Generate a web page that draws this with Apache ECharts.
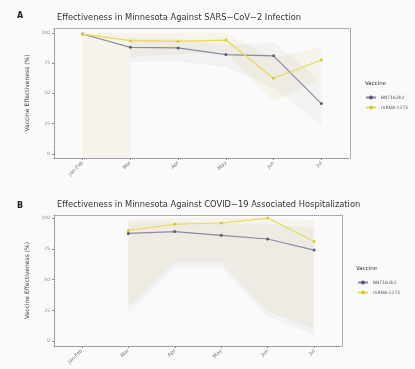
<!DOCTYPE html>
<html>
<head>
<meta charset="utf-8">
<script src="https://cdn.jsdelivr.net/npm/echarts@6/dist/echarts.min.js"></script>
<style>
  html, body { margin: 0; padding: 0; background: #fafafa; }
  #main { width: 415px; height: 369px; }
</style>
</head>
<body>
<div id="main"></div>
<script>
// months on the x axis (same for both panels)
var months = ['Jan-Feb', 'Mar', 'Apr', 'May', 'Jun', 'Jul'];
var yTicks = [0, 25, 50, 75, 100];

// A: infection
var bntA = [99, 88, 87.5, 82, 81, 41.5];
var modA = [99, 93.5, 93, 94, 62.5, 77.5];
// ribbons A (x index, lower, upper)
var bntRibXA = [1, 2, 3, 4, 5];
var bntRibLoA = [76, 76, 72, 54, 24];
var bntRibHiA = [96, 95, 90, 92, 60];
var modRibXA = [0, 1, 1, 2, 3, 4, 5];
var modRibLoA = [-3, -3, 80, 82, 84, 43, 62];
var modRibHiA = [100, 100, 100, 100, 100, 79, 88];

// B: hospitalization (no Jan-Feb estimate)
var bntB = [null, 87.5, 89, 86, 83, 74];
var modB = [null, 90, 95, 96, 100, 81];
var bntRibXB = [1, 2, 3, 4, 5];
var bntRibLoB = [22, 60, 60, 20, 5];
var bntRibHiB = [97, 97, 96, 95, 92];
var modRibXB = [1, 2, 3, 4, 5];
var modRibLoB = [28, 64, 64, 24, 10];
var modRibHiB = [99, 100, 100, 100, 98];

var bntColor = '#8a8aa2';
var modColor = '#e8da52';
var font = 'DejaVu Sans';

function ribbon(xs, lo, hi, fill, idx) {
    return {
        type: 'custom',
        xAxisIndex: idx,
        yAxisIndex: idx,
        silent: true,
        z: 1,
        data: [[0, 0]],
        renderItem: function (params, api) {
            var pts = [];
            for (var i = 0; i < xs.length; i++) pts.push(api.coord([xs[i], hi[i]]));
            for (var j = xs.length - 1; j >= 0; j--) pts.push(api.coord([xs[j], lo[j]]));
            return { type: 'polygon', shape: { points: pts }, style: { fill: fill } };
        }
    };
}

function lineSeries(name, values, color, idx) {
    var d = [];
    for (var i = 0; i < values.length; i++) {
        if (values[i] !== null) d.push([i, values[i]]);
    }
    return {
        name: name,
        type: 'line',
        xAxisIndex: idx,
        yAxisIndex: idx,
        data: d,
        z: 3,
        symbol: 'circle',
        symbolSize: 3,
        lineStyle: { color: color, width: 1.2 },
        itemStyle: { color: name === 'BNT162b2' ? '#5c5c70' : '#d8c840' }
    };
}

function xAxis(idx) {
    return {
        type: 'value', gridIndex: idx, min: -0.6, max: 5.6,
        splitLine: { show: false },
        axisLine: { onZero: false, lineStyle: { color: '#888', type: 'dotted', width: 1 } },
        axisTick: { customValues: [0, 1, 2, 3, 4, 5], length: 2, lineStyle: { color: '#888' } },
        axisLabel: {
            customValues: [0, 1, 2, 3, 4, 5], rotate: 45, fontSize: 5, color: '#777',
            fontFamily: font, margin: 4,
            formatter: function (v) { return months[Math.round(v)]; }
        }
    };
}

function frameX(idx) {
    return {
        type: 'value', gridIndex: idx, position: 'top', min: 0, max: 1,
        axisLine: { show: true, onZero: false, lineStyle: { color: '#999', type: 'dotted' } },
        axisTick: { show: false }, axisLabel: { show: false }, splitLine: { show: false }
    };
}

function yAxis(idx, min, max) {
    return {
        type: 'value', gridIndex: idx, min: min, max: max,
        name: 'Vaccine Effectiveness (%)', nameLocation: 'middle', nameGap: 17,
        nameTextStyle: { fontSize: 6, color: '#444', fontFamily: font },
        splitLine: { show: false },
        axisLine: { show: true, onZero: false, lineStyle: { color: '#888', type: 'dotted' } },
        axisTick: { show: true, customValues: yTicks, length: 2, lineStyle: { color: '#888' } },
        axisLabel: { customValues: yTicks, fontSize: 4.5, color: '#888', margin: 4, fontFamily: font }
    };
}

function frameY(idx) {
    return {
        type: 'value', gridIndex: idx, position: 'right', min: 0, max: 1,
        axisLine: { show: true, onZero: false, lineStyle: { color: '#999', type: 'dotted' } },
        axisTick: { show: false }, axisLabel: { show: false }, splitLine: { show: false }
    };
}

var myChart = echarts.init(document.getElementById('main'));
var option = {
    backgroundColor: '#fafafa',
    animation: false,
    title: [
        { text: 'A', left: 12, top: 7, textStyle: { fontSize: 8, fontWeight: 'bold', color: '#222', fontFamily: font } },
        { text: 'Effectiveness in Minnesota Against SARS\u2212CoV\u22122 Infection', left: 52, top: 9,
          textStyle: { fontSize: 8.3, fontWeight: 'normal', color: '#333', fontFamily: font } },
        { text: 'Vaccine', left: 360, top: 76, textStyle: { fontSize: 5.5, fontWeight: 'normal', color: '#333', fontFamily: font } },
        { text: 'B', left: 12, top: 197, textStyle: { fontSize: 8, fontWeight: 'bold', color: '#222', fontFamily: font } },
        { text: 'Effectiveness in Minnesota Against COVID\u221219 Associated Hospitalization', left: 52, top: 196,
          textStyle: { fontSize: 8.3, fontWeight: 'normal', color: '#333', fontFamily: font } },
        { text: 'Vaccine', left: 351, top: 261, textStyle: { fontSize: 5.5, fontWeight: 'normal', color: '#333', fontFamily: font } }
    ],
    legend: [
        { data: ['BNT162b2', 'mRNA-1273'], orient: 'vertical', left: 360, top: 90, itemGap: 5,
          itemWidth: 10, itemHeight: 5, textStyle: { fontSize: 4.5, color: '#555', fontFamily: font } },
        { data: ['BNT162b2', 'mRNA-1273'], orient: 'vertical', left: 352, top: 275, itemGap: 5,
          itemWidth: 10, itemHeight: 5, textStyle: { fontSize: 4.5, color: '#555', fontFamily: font } }
    ],
    grid: [
        { left: 54, top: 28, width: 296, height: 130 },
        { left: 54, top: 215, width: 288, height: 131 }
    ],
    xAxis: [xAxis(0), xAxis(1), frameX(0), frameX(1)],
    yAxis: [yAxis(0, -3.5, 104), yAxis(1, -4, 102.5), frameY(0), frameY(1)],
    series: [
        ribbon(modRibXA, modRibLoA, modRibHiA, 'rgba(215,195,120,0.12)', 0),
        ribbon(bntRibXA, bntRibLoA, bntRibHiA, 'rgba(150,140,150,0.07)', 0),
        ribbon(modRibXB, modRibLoB, modRibHiB, 'rgba(215,195,120,0.12)', 1),
        ribbon(bntRibXB, bntRibLoB, bntRibHiB, 'rgba(150,140,150,0.07)', 1),
        lineSeries('BNT162b2', bntA, bntColor, 0),
        lineSeries('mRNA-1273', modA, modColor, 0),
        lineSeries('BNT162b2', bntB, bntColor, 1),
        lineSeries('mRNA-1273', modB, modColor, 1)
    ]
};
myChart.setOption(option);
</script>
</body>
</html>
